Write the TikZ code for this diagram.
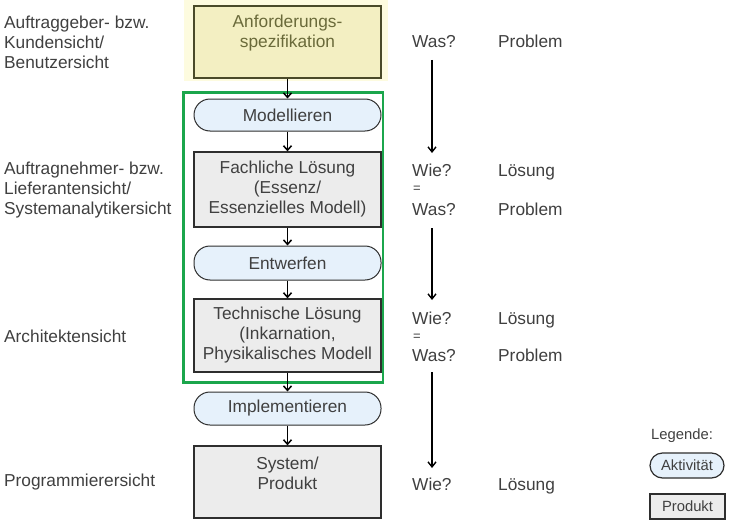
\documentclass[tikz,border=0pt]{standalone}
\usepackage{fontspec}
\setmainfont{Liberation Sans}
\usetikzlibrary{arrows.meta}
\definecolor{txt}{HTML}{404040}
\definecolor{olive}{HTML}{6A6A3A}
\definecolor{yelfill}{HTML}{F3EFC2}
\definecolor{yelglow}{HTML}{FDFBDF}
\definecolor{grayfill}{HTML}{ECECEC}
\definecolor{bluefill}{HTML}{E6F1FB}
\definecolor{frame}{HTML}{2E2E2E}
\definecolor{greenbox}{HTML}{1BA64C}
\begin{document}
\begin{tikzpicture}[x=1pt,y=-1pt,
  every node/.style={font=\fontsize{17.3}{20}\selectfont, text=txt, inner sep=0pt},
  prodbox/.style={draw=frame, line width=1.3pt, fill=grayfill, minimum width=187pt, align=center},
  actbox/.style={draw=frame, line width=1pt, fill=bluefill, minimum width=187pt, rounded corners=16pt, align=center},
  lbl/.style={anchor=west, align=left},
  rlbl/.style={anchor=base west},
  flow/.style={draw=black, line width=1.5pt, -{Straight Barb[length=4.5pt,width=8pt]}},
  bigflow/.style={draw=black, line width=1.4pt, -{Straight Barb[length=5pt,width=8pt]}},
  legfont/.style={font=\fontsize{14.8}{17}\selectfont}
]
\useasboundingbox (0,0) rectangle (736,527);
\fill[white] (0,0) rectangle (736,527);
\fill[yelglow] (184,0) rectangle (388,81);

\node[prodbox, draw=olive!70!black, fill=yelfill, minimum height=72pt] (anf) at (287.5,42) {};
\node[align=center, text=olive] (anfT) at (287.5,33) {Anforderungs-\\spezifikation};
\node[actbox, minimum height=32pt] (mod) at (287.5,115) {Modellieren};
\node[prodbox, minimum height=75pt] (fach) at (287.5,189.5) {Fachliche Lösung\\(Essenz/\\Essenzielles Modell)};
\node[actbox, minimum height=34pt] (ent) at (287.5,263) {Entwerfen};
\node[prodbox, minimum height=73pt] (tech) at (287.5,335.5) {Technische Lösung\\(Inkarnation,\\Physikalisches Modell};
\node[actbox, minimum height=33pt] (impl) at (287.5,408.5) {Implementieren};
\node[prodbox, minimum height=72pt] (sys) at (287.5,482) {};
\node[align=center] (sysT) at (287.5,473) {System/\\Produkt};

\draw[greenbox, line width=2.6pt] (183.5,92.5) rectangle (383,382.5);

\draw[flow] (anf) -- (mod);
\draw[flow] (mod) -- (fach);
\draw[flow] (fach) -- (ent);
\draw[flow] (ent) -- (tech);
\draw[flow] (tech) -- (impl);
\draw[flow] (impl) -- (sys);

% left labels
\node[lbl] (v1) at (4,42) {Auftraggeber- bzw.\\Kundensicht/\\Benutzersicht};
\node[lbl] (v2) at (4,190) {Auftragnehmer- bzw.\\Lieferantensicht/\\Systemanalytikersicht};
\node[lbl] (v3) at (4,336) {Architektensicht};
\node[lbl] (v4) at (4,482) {Programmierersicht};

% right column (baselines)
\node[rlbl] (q1) at (412,48) {Was?};
\node[rlbl] (p1) at (498,48) {Problem};
\node[rlbl] (q2) at (412,176) {Wie?};
\node[rlbl, font=\fontsize{13}{14}\selectfont] (e2) at (413,192) {=};
\node[rlbl] (q2b) at (412,215) {Was?};
\node[rlbl] (p2) at (498,176) {Lösung};
\node[rlbl] (p2b) at (498,215) {Problem};
\node[rlbl] (q3) at (412,324) {Wie?};
\node[rlbl, font=\fontsize{13}{14}\selectfont] (e3) at (413,340) {=};
\node[rlbl] (q3b) at (412,361) {Was?};
\node[rlbl] (p3) at (498,324) {Lösung};
\node[rlbl] (p3b) at (498,361) {Problem};
\node[rlbl] (q4) at (412,490) {Wie?};
\node[rlbl] (p4) at (498,490) {Lösung};

\coordinate (a1s) at (432,60);
\coordinate (a1e) at (432,153);
\coordinate (a2s) at (432,228);
\coordinate (a2e) at (432,300);
\coordinate (a3s) at (432,372);
\coordinate (a3e) at (432,468);
\draw[bigflow] (a1s) -- (a1e);
\draw[bigflow] (a2s) -- (a2e);
\draw[bigflow] (a3s) -- (a3e);

% legend
\node[lbl, legfont] (leg) at (651,436) {Legende:};
\node[actbox, legfont, minimum width=74pt, minimum height=25pt, rounded corners=12.5pt, line width=1.2pt] (lakt) at (687,465.5) {Aktivität};
\node[prodbox, legfont, minimum width=75pt, minimum height=25pt, line width=2pt] (lprod) at (687.5,506.5) {Produkt};
\end{tikzpicture}
\end{document}
